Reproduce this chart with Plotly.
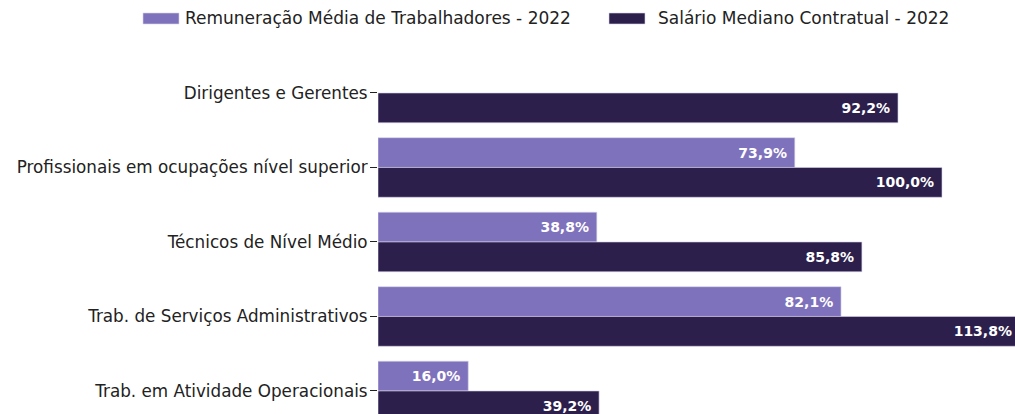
import plotly.graph_objects as go

categorias = [
    "Dirigentes e Gerentes",
    "Profissionais em ocupações nível superior",
    "Técnicos de Nível Médio",
    "Trab. de Serviços Administrativos",
    "Trab. em Atividade Operacionais",
]
remuneracao_media = [None, 73.9, 38.8, 82.1, 16.0]
salario_mediano = [92.2, 100.0, 85.8, 113.8, 39.2]
series = ["Remuneração Média de Trabalhadores - 2022", "Salário Mediano Contratual - 2022"]

cor_clara = "#7F72BC"
cor_escura = "#2D1F4C"

W, H = 1030, 414
ML, MT = 378, 50
PW, PH = W - ML, H - MT


def rotulo(v):
    # espaço no fim para afastar o texto da ponta da barra
    return "" if v is None else f"{v:.1f}%".replace(".", ",") + "\u00a0"


def px_x(p):
    return (p - ML) / PW


def px_y(p):
    return 1 + (MT - p) / PH


fonte_barra = dict(color="white", size=14, family="DejaVu Sans", weight="bold")

fig = go.Figure()
for nome, valores, cor in [(series[0], remuneracao_media, cor_clara),
                           (series[1], salario_mediano, cor_escura)]:
    fig.add_trace(go.Bar(
        y=categorias, x=valores, orientation="h", name=nome,
        marker=dict(color=cor, line=dict(color="#D8D4EA", width=0.6)),
        text=[rotulo(v) for v in valores],
        textposition="inside", insidetextanchor="end", textfont=fonte_barra,
        showlegend=False,
    ))

# legenda desenhada à mão (amostras retangulares largas)
for nome, cor, x0, xt in [(series[0], cor_clara, 143, 183), (series[1], cor_escura, 609, 656)]:
    fig.add_shape(type="rect", xref="paper", yref="paper",
                  x0=px_x(x0), x1=px_x(x0 + 36), y0=px_y(24), y1=px_y(13),
                  fillcolor=cor, line=dict(color="#D8D4EA", width=0.6))
    fig.add_annotation(text=nome, xref="paper", yref="paper", x=px_x(xt), y=px_y(18),
                       xanchor="left", yanchor="middle", showarrow=False,
                       font=dict(size=17, color="#222"))

# a figura é mais larga que a janela: a barra maior fica cortada à direita
fig.update_layout(
    width=W, height=H,
    margin=dict(l=ML, r=0, t=MT, b=0, autoexpand=False),
    paper_bgcolor="white", plot_bgcolor="white",
    font=dict(family="DejaVu Sans", size=16.8, color="#222"),
    barmode="group", bargap=0.2, bargroupgap=0,
    uniformtext=dict(mode="show", minsize=8),
    xaxis=dict(range=[0, PW / 5.64], visible=False),
    yaxis=dict(
        range=[4.309, -0.577], ticks="outside", ticklen=7, tickcolor="#222",
        showgrid=False, showline=False, ticklabelstandoff=-1,
    ),
)

fig.write_html(
    "out.html",
    config={"displayModeBar": False},
    post_script="document.body.style.margin='0px';document.body.style.overflow='hidden';",
)
